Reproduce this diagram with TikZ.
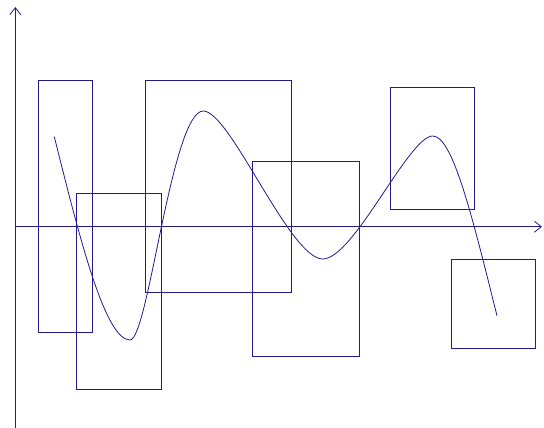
\documentclass[tikz,border=0pt]{standalone}
\usetikzlibrary{arrows.meta}
\definecolor{plotblue}{RGB}{36,26,140}

\begin{document}
\begin{tikzpicture}[x=1pt,y=-1pt,line width=0.8pt,color=plotblue,
    >={Straight Barb[length=7pt,width=11pt]}]
  \useasboundingbox (0,0) rectangle (544,428);
  \coordinate (ybot) at (15.3,428);
  \coordinate (ytop) at (15.3,7);
  \coordinate (xleft) at (15.3,226.7);
  \coordinate (xright) at (542,226.7);
  \draw[->] (ybot)--(ytop);
  \draw[->] (xleft)--(xright);
  % boxes over the curve
  \foreach \xa/\ya/\xb/\yb in {38.7/80/92.3/332,76.7/193.7/161/389,145.7/80/291.3/292,252.3/161/359.3/356,390.3/87.3/474/209.7,451.3/259/535.3/348}
    \draw (\xa,\ya) rectangle (\xb,\yb);
  \draw (54.3,136.7) .. controls (79.3,236.7) and (105,340) .. (130,340)
    .. controls (148.3,340) and (171.8,111) .. (203.3,111)
    .. controls (230.1,111) and (289.9,259) .. (322.7,259)
    .. controls (353.7,259) and (408.8,136) .. (432.7,136)
    .. controls (452.7,136) and (472,215.7) .. (497,315.7);
\end{tikzpicture}
\end{document}
